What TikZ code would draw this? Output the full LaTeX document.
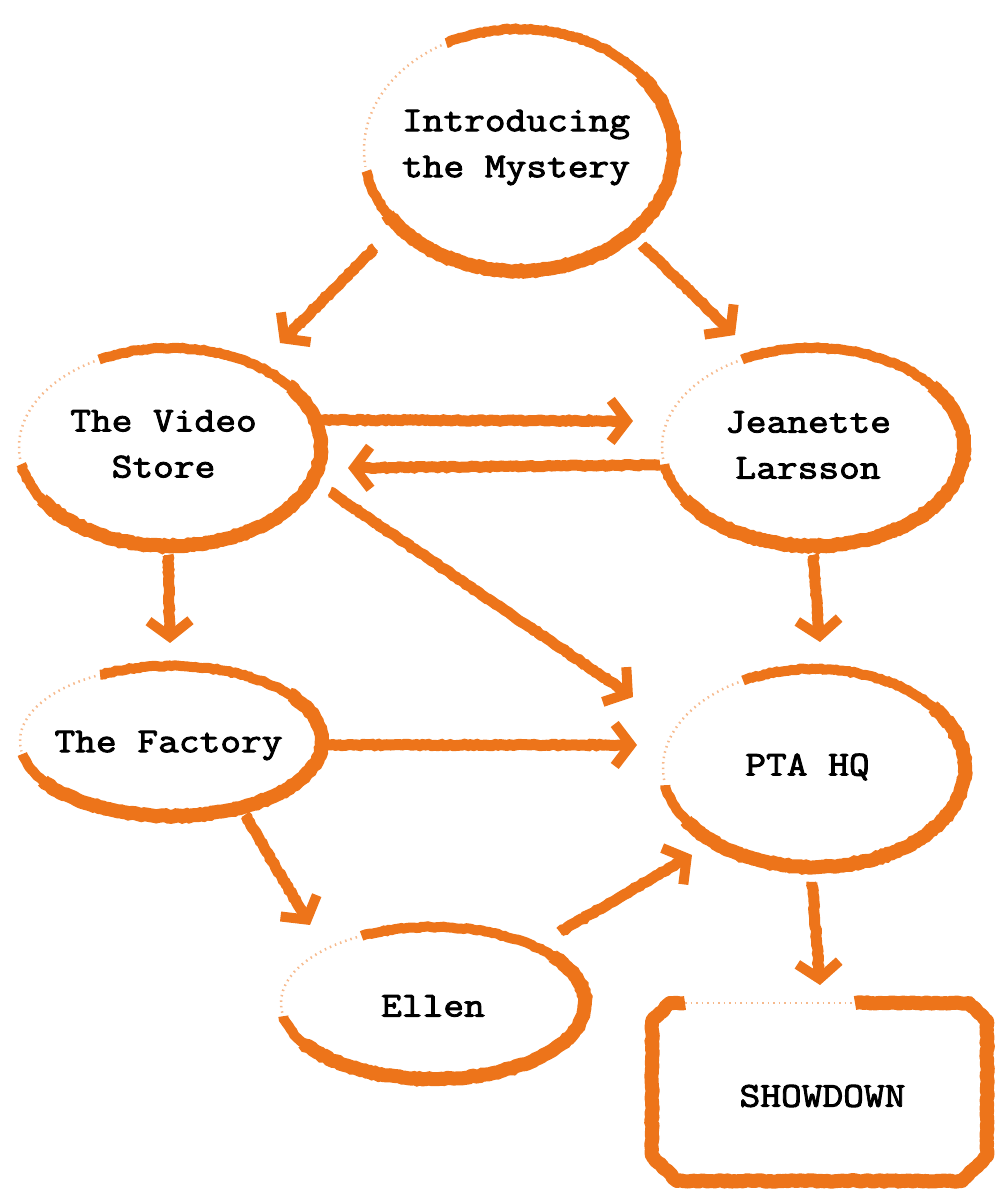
\documentclass[tikz,border=0pt]{standalone}
\usepackage{fontspec}
\newfontfamily\tw{Latin Modern Mono}[FakeStretch=1.15,FakeBold=2.6]
\usetikzlibrary{arrows.meta,decorations.pathmorphing,calc}
\definecolor{org}{RGB}{237,116,26}
\newcommand\roughring[3]{%
  \draw[ringmain] ([shift={(190:#2 and #3)}]#1.center) arc[start angle=190,end angle=478,x radius=#2,y radius=#3];
  \draw[ringthick] ([shift={(212:#2 and #3)}]#1.center) arc[start angle=212,end angle=398,x radius=#2,y radius=#3];
  \draw[ringfaint] ([shift={(120:#2 and #3)}]#1.center) arc[start angle=120,end angle=188,x radius=#2,y radius=#3];
}
\begin{document}
\begin{tikzpicture}[x=1pt,y=1pt,
  hub/.style={circle,inner sep=0pt,minimum size=0pt},
  lbl/.style={font=\tw\fontsize{35}{46}\selectfont,align=center,inner sep=0pt,text=black},
  ringmain/.style={draw=org,line width=10pt,decorate,decoration={random steps,segment length=3pt,amplitude=0.7pt}},
  ringthick/.style={draw=org,line width=14pt,decorate,decoration={random steps,segment length=3pt,amplitude=0.8pt}},
  ringfaint/.style={draw=org!50,line width=2.5pt,dash pattern=on 1.5pt off 4pt},
  rectmain/.style={draw=org,line width=14pt,line join=round,decorate,decoration={random steps,segment length=3pt,amplitude=0.8pt}},
  arr/.style={draw=org,line width=8pt,-{Straight Barb[length=16pt,width=42pt,line width=10pt]},
     preaction={draw=org,line width=11pt,arrows=-,decorate,decoration={random steps,segment length=3pt,amplitude=0.7pt,post=moveto,post length=14pt}}}
]
\useasboundingbox (0,0) rectangle (995,1189);
\pgfmathsetseed{3}
\node[hub] (intro) at (519,1039) {};
\node[hub] (video) at (170,742) {};
\node[hub] (jean) at (813,742) {};
\node[hub] (factory) at (171,448) {};
\node[hub] (pta) at (814,421) {};
\node[hub] (ellen) at (433,186) {};
\node[hub] (show) at (820,97) {};

\roughring{intro}{155}{121}
\roughring{video}{151}{99}
\roughring{jean}{151}{99}
\roughring{factory}{151}{75}
\roughring{pta}{151}{99}
\roughring{ellen}{152}{76}

\draw[rectmain] ($(show)+(-135,89)$) -- ($(show)+(-150,89)$) -- ($(show)+(-168,71)$) -- ($(show)+(-168,-64)$) -- ($(show)+(-143,-89)$) -- ($(show)+(142,-89)$) -- ($(show)+(167,-64)$) -- ($(show)+(167,71)$) -- ($(show)+(149,89)$) -- ($(show)+(35,89)$);
\draw[ringfaint] ($(show)+(-135,89)$) -- ($(show)+(35,89)$);

\draw[arr] ($(intro)+(-144,-98)$) -- ($(video)+(110,104)$);
\draw[arr] ($(intro)+(123,-95)$) -- ($(jean)+(-78,112)$);
\draw[arr] ($(video)+(150,27)$) -- ($(jean)+(-180,26)$);
\draw[arr] ($(jean)+(-153,-18)$) -- ($(video)+(178,-21)$);
\draw[arr] ($(video)+(160,-45)$) -- ($(pta)+(-181,71)$);
\draw[arr] ($(video)+(-2,-108)$) -- ($(factory)+(-1,98)$);
\draw[arr] ($(jean)+(0,-108)$) -- ($(pta)+(6,126)$);
\draw[arr] ($(factory)+(156,-4)$) -- ($(pta)+(-177,23)$);
\draw[arr] ($(factory)+(74,-74)$) -- ($(ellen)+(-123,78)$);
\draw[arr] ($(ellen)+(127,71)$) -- ($(pta)+(-122,-87)$);
\draw[arr] ($(pta)+(-2,-114)$) -- ($(show)+(0,107)$);

\node[lbl] (introT) at ($(intro)+(-3,2.5)$) {Introducing\\the Mystery};
\node[lbl] (videoT) at ($(video)+(-6.5,3)$) {The Video\\Store};
\node[lbl] (jeanT) at ($(jean)+(-5,2)$) {Jeanette\\Larsson};
\node[lbl] (factoryT) at ($(factory)+(-2.5,-4.5)$) {The Factory};
\node[lbl] (ptaT) at ($(pta)+(-6.5,1)$) {PTA HQ};
\node[lbl] (ellenT) at ($(ellen)+(0,-3)$) {Ellen};
\node[lbl] (showT) at ($(show)+(2.5,-4)$) {SHOWDOWN};
\end{tikzpicture}
\end{document}
